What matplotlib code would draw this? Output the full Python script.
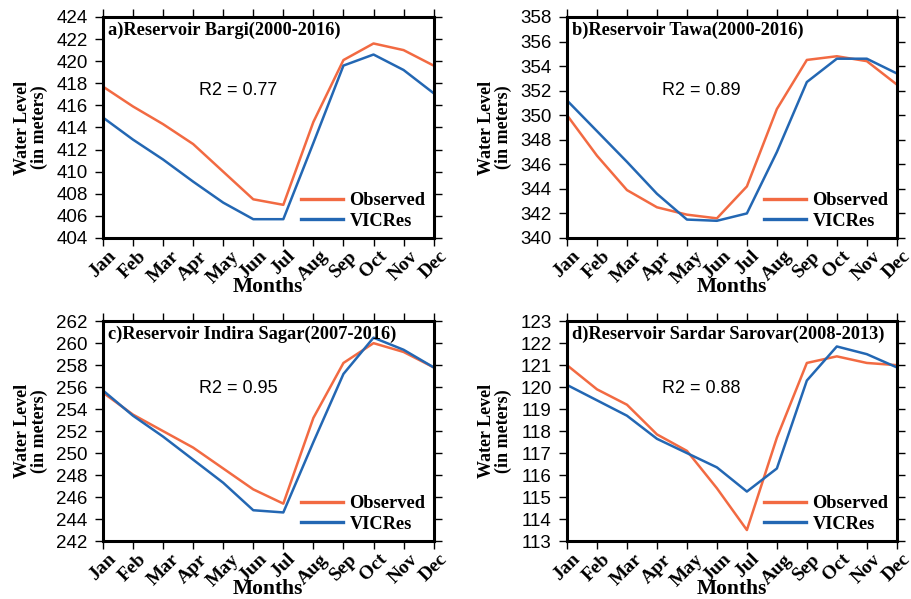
import matplotlib
matplotlib.use("Agg")
import matplotlib.pyplot as plt

months = ["Jan", "Feb", "Mar", "Apr", "May", "Jun",
          "Jul", "Aug", "Sep", "Oct", "Nov", "Dec"]

# 저수지별 월평균 수위 (관측 vs VICRes)
bargi_obs = [417.7, 415.9, 414.3, 412.5, 410.0, 407.5, 407.0, 414.5, 420.1, 421.6, 421.0, 419.6]
bargi_sim = [414.9, 412.9, 411.1, 409.1, 407.2, 405.7, 405.7, 412.6, 419.6, 420.6, 419.2, 417.1]

tawa_obs = [350.0, 346.7, 343.9, 342.5, 341.9, 341.6, 344.2, 350.5, 354.5, 354.8, 354.4, 352.5]
tawa_sim = [351.2, 348.7, 346.2, 343.6, 341.5, 341.4, 342.0, 347.0, 352.7, 354.6, 354.6, 353.4]

indira_obs = [255.5, 253.5, 252.0, 250.5, 248.6, 246.7, 245.4, 253.2, 258.2, 260.0, 259.2, 257.8]
indira_sim = [255.7, 253.4, 251.5, 249.4, 247.3, 244.8, 244.6, 251.0, 257.2, 260.5, 259.4, 257.8]

sardar_obs = [121.0, 119.9, 119.2, 117.85, 117.1, 115.4, 113.5, 117.7, 121.1, 121.4, 121.1, 121.0]
sardar_sim = [120.1, 119.4, 118.7, 117.65, 117.0, 116.35, 115.25, 116.3, 120.3, 121.85, 121.5, 120.9]

titles = ["a)Reservoir Bargi(2000-2016)", "b)Reservoir Tawa(2000-2016)",
          "c)Reservoir Indira Sagar(2007-2016)", "d)Reservoir Sardar Sarovar(2008-2013)"]
r2_values = [0.77, 0.89, 0.95, 0.88]
y_ranges = [(404, 424, 2), (340, 358, 2), (242, 262, 2), (113, 123, 1)]

obs_color = "#f26a42"
sim_color = "#2367b3"
serif = "Liberation Serif"
sans = "Liberation Sans"

fig = plt.figure(figsize=(9.11, 5.99), dpi=100)
positions = [
    [0.113, 0.6027, 0.363, 0.369],
    [0.6224, 0.6027, 0.362, 0.369],
    [0.113, 0.0968, 0.363, 0.367],
    [0.6224, 0.0968, 0.362, 0.367],
]
r2_pos = [(0.29, 0.665), (0.288, 0.665), (0.29, 0.695), (0.288, 0.695)]
data = [(bargi_obs, bargi_sim), (tawa_obs, tawa_sim),
        (indira_obs, indira_sim), (sardar_obs, sardar_sim)]

x = list(range(len(months)))
for i, (obs, sim) in enumerate(data):
    ax = fig.add_axes(positions[i])
    ax.plot(x, obs, color=obs_color, lw=1.8, label="Observed")
    ax.plot(x, sim, color=sim_color, lw=1.8, label="VICRes")

    lo, hi, step = y_ranges[i]
    ax.set_xlim(0, 11)
    ax.set_ylim(lo, hi)
    ax.set_yticks(range(lo, hi + 1, step))
    ax.set_xticks(x)
    ax.set_xticklabels(months, rotation=45, ha="center", va="top",
                       fontfamily=serif, fontweight="bold", fontsize=14)
    for lab in ax.get_yticklabels():
        lab.set_fontfamily(sans)
        lab.set_fontsize(13.5)
    ax.tick_params(axis="y", direction="out", length=6, width=1, right=True,
                   pad=5)
    ax.tick_params(axis="x", direction="out", length=6, width=1, top=True,
                   pad=1)
    for s in ax.spines.values():
        s.set_linewidth(2.2)

    ax.set_xlabel("Months", fontfamily=serif, fontweight="bold", fontsize=15.5,
                  va="center")
    ax.xaxis.set_label_coords(0.5, -0.22)
    ax.set_ylabel("Water Level\n(in meters)", fontfamily=serif,
                  fontweight="bold", fontsize=13, linespacing=0.95, labelpad=6)

    ax.text(0.015, 0.978, titles[i], transform=ax.transAxes, ha="left",
            va="top", fontfamily=serif, fontweight="bold", fontsize=13.2)
    ax.text(r2_pos[i][0], r2_pos[i][1], f"R2 = {r2_values[i]:.2f}",
            transform=ax.transAxes, ha="left", va="center",
            fontfamily=sans, fontsize=13)

    leg = ax.legend(loc="lower right", frameon=False, handlelength=2.3,
                    labelspacing=0.2, borderaxespad=0.05, handletextpad=0.35,
                    prop={"family": serif, "weight": "bold", "size": 13.2})
    for ln in leg.get_lines():
        ln.set_linewidth(2.4)

fig.savefig("out.png", dpi=100)
